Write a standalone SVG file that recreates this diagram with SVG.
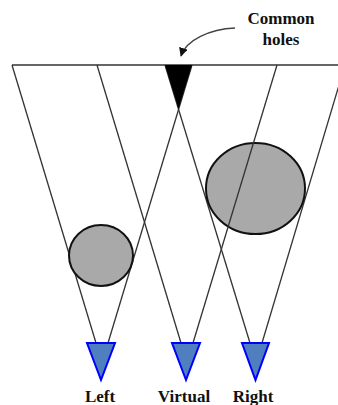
<svg xmlns="http://www.w3.org/2000/svg" width="338" height="405" viewBox="0 0 338 405">
<style>
.ray{stroke:#333;stroke-width:1.3;fill:none}
.obj{fill:#a9a9a9;stroke:#111;stroke-width:2}
.cam{fill:#4f7fbf;stroke:#0000ff;stroke-width:2;stroke-linejoin:miter}
.lbl{font-family:"Liberation Serif",serif;font-weight:bold;font-size:17px;fill:#111;text-anchor:middle}
</style>
<defs>
<marker id="ah" viewBox="0 0 10 10" refX="9" refY="5" markerWidth="9" markerHeight="9" markerUnits="userSpaceOnUse" orient="auto">
<path d="M0,0 L10,5 L0,10 z" fill="#111"/>
</marker>
</defs>
<rect width="338" height="405" fill="#fff"/>
<g id="connectors">
<line class="ray" x1="12" y1="65" x2="338" y2="65"/>
<line class="ray" x1="12" y1="65" x2="96" y2="343"/>
<line class="ray" x1="192" y1="65" x2="108" y2="343"/>
<line class="ray" x1="165" y1="65" x2="250" y2="343"/>
<line class="ray" x1="345" y1="65" x2="262" y2="343"/>
</g>
<g id="obj-small"><ellipse class="obj" cx="101" cy="255.5" rx="32" ry="30.5"/></g>
<g id="obj-large"><ellipse class="obj" cx="255.5" cy="188.5" rx="49.5" ry="45.5"/></g>
<g id="connectors-virtual">
<line class="ray" x1="97" y1="65" x2="181" y2="343"/>
<line class="ray" x1="277" y1="65" x2="193" y2="343"/>
</g>
<g id="common-holes">
<polygon points="165,65 192,65 178.5,109" fill="#000"/>
</g>
<g id="label-common">
<path d="M235,28 C210,29 186,40 181,56" stroke="#444" stroke-width="1.5" fill="none" marker-end="url(#ah)"/>
<text class="lbl" x="281" y="24">Common</text>
<text class="lbl" x="281" y="45">holes</text>
</g>
<g id="cam-left">
<polygon class="cam" points="87,343 115,343 101,380"/>
<text class="lbl" x="100" y="402">Left</text>
</g>
<g id="cam-virtual">
<polygon class="cam" points="172,343 200,343 186,380"/>
<text class="lbl" x="184" y="402">Virtual</text>
</g>
<g id="cam-right">
<polygon class="cam" points="242,343 269,343 255.5,380"/>
<text class="lbl" x="253" y="402">Right</text>
</g>
</svg>
